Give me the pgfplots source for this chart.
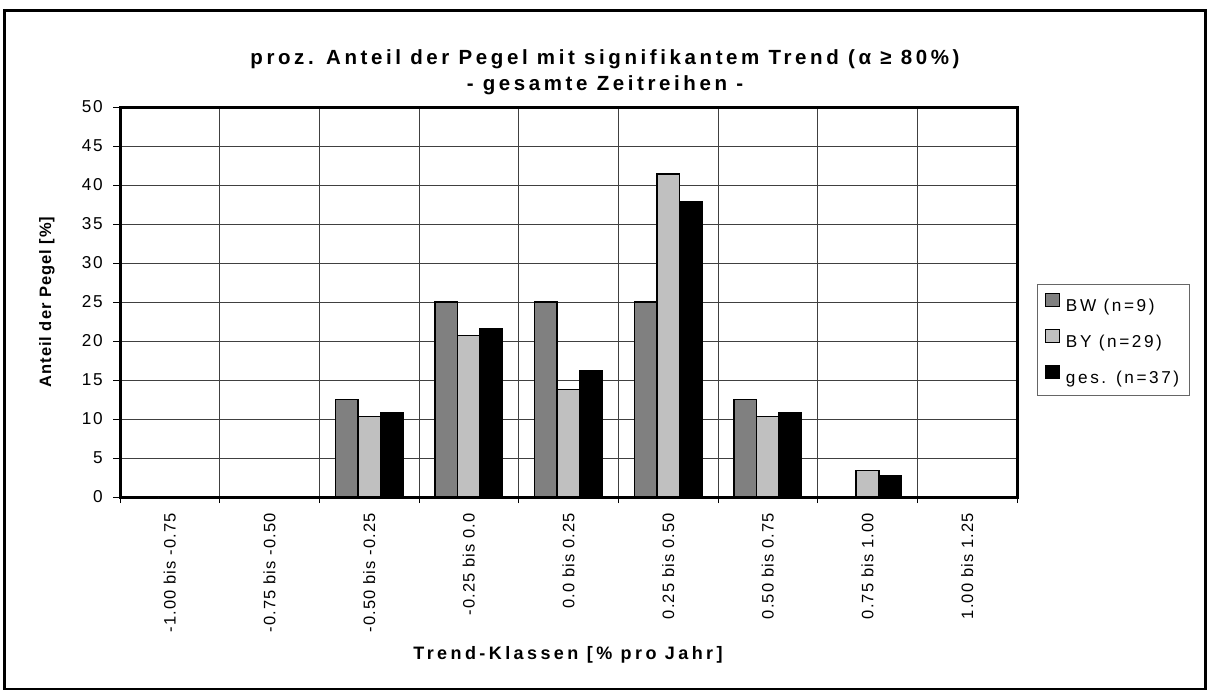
\documentclass[border=0pt]{standalone}
\usepackage{fontspec}
\setmainfont{Liberation Sans}
\newfontfamily\tickfont[LetterSpace=10]{Liberation Sans}
\newfontfamily\legfont[LetterSpace=15]{Liberation Sans}
\newfontfamily\xtickfont[LetterSpace=7]{Liberation Sans}
\newfontfamily\titlefont[LetterSpace=17.5]{Liberation Sans}
\newfontfamily\labfont[LetterSpace=19]{Liberation Sans}
\newfontfamily\ylabfont[LetterSpace=6]{Liberation Sans}
\usepackage{pgfplots}
\pgfplotsset{compat=1.18}
\definecolor{bwgray}{HTML}{808080}
\definecolor{bygray}{HTML}{C0C0C0}
\begin{document}
\begin{tikzpicture}[x=1pt,y=1pt]
\path[use as bounding box] (0,0) rectangle (1208,-689);
\draw[line width=3pt] (4.5,-689.5) -- (4.5,-10.5) -- (1205.5,-10.5) -- (1205.5,-689.5);
\draw[line width=3pt] (4.5,-689.5) -- (1205.5,-689.5);
\begin{axis}[
  at={(120pt,-497pt)}, anchor=south west,
  scale only axis, width=897pt, height=390pt,
  xmin=-0.5, xmax=8.5, ymin=0, ymax=50,
  ytick={0,5,...,50},
  xtick={0,...,8},
  xticklabels={-1.00 bis -0.75,-0.75 bis -0.50,-0.50 bis -0.25,-0.25 bis 0.0,0.0 bis 0.25,0.25 bis 0.50,0.50 bis 0.75,0.75 bis 1.00,1.00 bis 1.25},
  minor xtick={-0.5,0.5,...,8.5},
  xminorgrids=true, ymajorgrids=true,
  grid style={black!75, line width=1pt},
  minor grid style={black!75, line width=1pt},
  axis line style={line width=3pt},
  tick align=outside, tick pos=left,
  major tick length=7pt, minor tick length=6pt,
  tick style={black, line width=1pt},
  major x tick style={draw=none},
  /pgf/number format/assume math mode=true,
  yticklabel style={font=\tickfont\fontsize{17.2}{20}\selectfont, anchor=east, inner sep=0pt, xshift=-10pt},
  xticklabel style={font=\xtickfont\fontsize{16.5}{19}\selectfont, rotate=90, anchor=east, inner ysep=0pt, inner xsep=9pt},
  legend style={at={(axis description cs:1.0223,0.546)}, anchor=north west,
    draw=black!60, line width=1pt, font=\legfont\fontsize{17.2}{20}\selectfont,
    row sep=13.5pt, inner xsep=8pt, inner ysep=8pt},
  legend cell align=left,
  legend image code/.code={\draw[#1, line width=1pt] (0pt,0pt) rectangle (14pt,13pt); \path[draw=none,fill=none] (0pt,0pt) -- (18pt,0pt);},
]
\addplot[fill=bwgray, draw=black, line width=1.5pt, ybar, bar width=22.6pt, bar shift=-22.6pt]
  coordinates {(0,0) (1,0) (2,12.5) (3,25) (4,25) (5,25) (6,12.5) (7,0) (8,0)};
\addplot[fill=bygray, draw=black, line width=1.5pt, ybar, bar width=22.6pt, bar shift=0pt]
  coordinates {(0,0) (1,0) (2,10.3) (3,20.7) (4,13.8) (5,41.4) (6,10.3) (7,3.4) (8,0)};
\addplot[fill=black, draw=black, line width=1.5pt, ybar, bar width=22.6pt, bar shift=22.6pt]
  coordinates {(0,0) (1,0) (2,10.8) (3,21.6) (4,16.2) (5,37.8) (6,10.8) (7,2.7) (8,0)};
\legend{BW (n=9),BY (n=29),ges. (n=37)}
\end{axis}
\node[font=\titlefont\bfseries\fontsize{20.5}{23}\selectfont] at (605,-59) {proz. Anteil der Pegel mit signifikantem Trend (α ≥ 80\%)};
\node[font=\titlefont\bfseries\fontsize{20.5}{23}\selectfont] at (605,-85) {- gesamte Zeitreihen -};
\node[font=\labfont\bfseries\fontsize{18}{21}\selectfont] at (568,-655) {Trend-Klassen [\% pro Jahr]};
\node[font=\ylabfont\bfseries\fontsize{16.5}{19}\selectfont, rotate=90] at (47,-302) {Anteil der Pegel [\%]};
\end{tikzpicture}
\end{document}
